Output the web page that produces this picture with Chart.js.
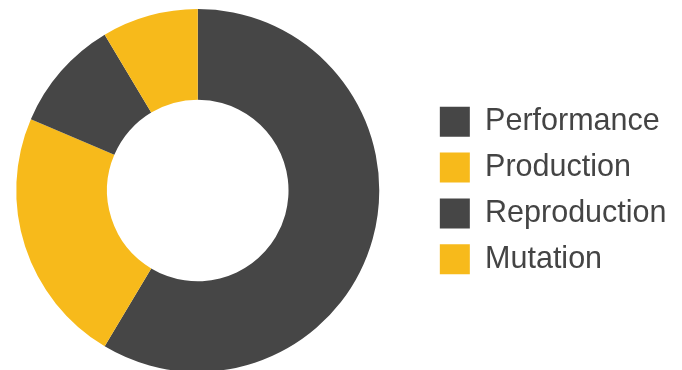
<!DOCTYPE html>
<html>
<head>
<meta charset="utf-8">
<script src="https://cdn.jsdelivr.net/npm/chart.js@4/dist/chart.umd.min.js"></script>
<style>
  html, body { margin: 0; padding: 0; background: #fff; overflow: hidden; width: 682px; height: 370px; }
  #wrap { position: absolute; left: -29px; top: 0; width: 711px; height: 381px; }
</style>
</head>
<body>
<div id="wrap"><canvas id="c"></canvas></div>
<script>
const categories = ['Performance', 'Production', 'Reproduction', 'Mutation'];
const values = [41, 16, 7, 6];
const colors = ['#464646', '#F7BA1B', '#464646', '#F7BA1B'];

new Chart(document.getElementById('c'), {
  type: 'doughnut',
  data: {
    labels: categories,
    datasets: [{
      data: values,
      backgroundColor: colors,
      borderWidth: 0,
      hoverOffset: 0
    }]
  },
  options: {
    responsive: true,
    maintainAspectRatio: false,
    animation: false,
    cutout: '50%',
    layout: { padding: { top: 9, bottom: 9, left: 0, right: 5.5 } },
    plugins: {
      tooltip: { enabled: false },
      legend: {
        position: 'right',
        align: 'center',
        labels: {
          boxWidth: 30,
          boxHeight: 30,
          padding: 15.3,
          color: '#444444',
          font: { family: '"Liberation Sans", Arial, sans-serif', size: 30.5 }
        }
      }
    }
  }
});
</script>
</body>
</html>
